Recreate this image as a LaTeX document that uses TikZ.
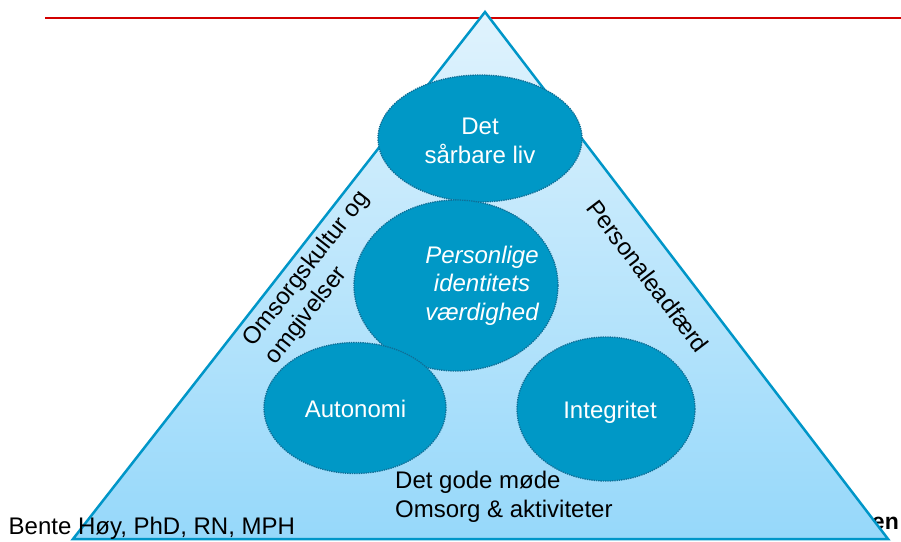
\documentclass[tikz,border=0pt]{standalone}
\usepackage{fontspec}
\setmainfont{Liberation Sans}
\usetikzlibrary{shapes.geometric}
\definecolor{tribord}{RGB}{0,150,200}
\definecolor{tritop}{RGB}{224,243,253}
\definecolor{tribot}{RGB}{150,216,250}
\definecolor{ovalfill}{RGB}{0,152,198}
\definecolor{ovaldot}{RGB}{15,110,150}
\definecolor{topline}{RGB}{210,0,0}
\tikzset{
  oval/.style={ellipse,inner sep=0pt,fill=ovalfill,draw=ovaldot,densely dotted,line width=1.3pt},
  ovaltext/.style={text=white,align=center,inner sep=0pt,font=\fontsize{24}{28.5}\selectfont},
  plaintext/.style={align=left,inner sep=0pt,font=\fontsize{24}{28.5}\selectfont},
}
\begin{document}
\begin{tikzpicture}[x=1pt,y=-1pt]
\useasboundingbox (0,0) rectangle (901,541);
\node[anchor=base east,inner sep=0pt,font=\fontsize{23}{28}\selectfont\bfseries] (title) at (899,529) {en};
\draw[topline,line width=1.5pt] (45,18) -- (901,18);
\coordinate (apex) at (485,12);
\coordinate (bl) at (73,539);
\coordinate (br) at (888,539);
\draw[draw=tribord,line width=2.5pt,top color=tritop,bottom color=tribot] (apex) -- (br) -- (bl) -- cycle;
\node[oval,minimum width=204pt,minimum height=127pt] (fragile) at (480,138.5) {};
\node[oval,minimum width=204pt,minimum height=171pt] (dignity) at (456,285.5) {};
\node[oval,minimum width=182pt,minimum height=131pt] (autonomy) at (355,408) {};
\node[oval,minimum width=178pt,minimum height=144pt] (integrity) at (606,409) {};
\node[ovaltext,anchor=base] (fragiletxt) at (480,163) {Det\\sårbare liv};
\node[ovaltext,anchor=base,font=\fontsize{24}{28.5}\selectfont\itshape] (dignitytxt) at (482,320) {Personlige\\identitets\\værdighed};
\node[ovaltext,anchor=base] (autonomytxt) at (355.5,417) {Autonomi};
\node[ovaltext,anchor=base] (integritytxt) at (610,418) {Integritet};
\node[plaintext,anchor=base west] (meeting) at (395,517) {Det gode møde\\Omsorg \& aktiviteter};
\node[plaintext,rotate=52] (culture) at (318,278) {Omsorgskultur og\\omgivelser};
\node[plaintext,rotate=-52.6] (staff) at (648,276) {Personaleadfærd};
\node[plaintext,anchor=base west] (author) at (8.5,534) {Bente Høy, PhD, RN, MPH};
\end{tikzpicture}
\end{document}
